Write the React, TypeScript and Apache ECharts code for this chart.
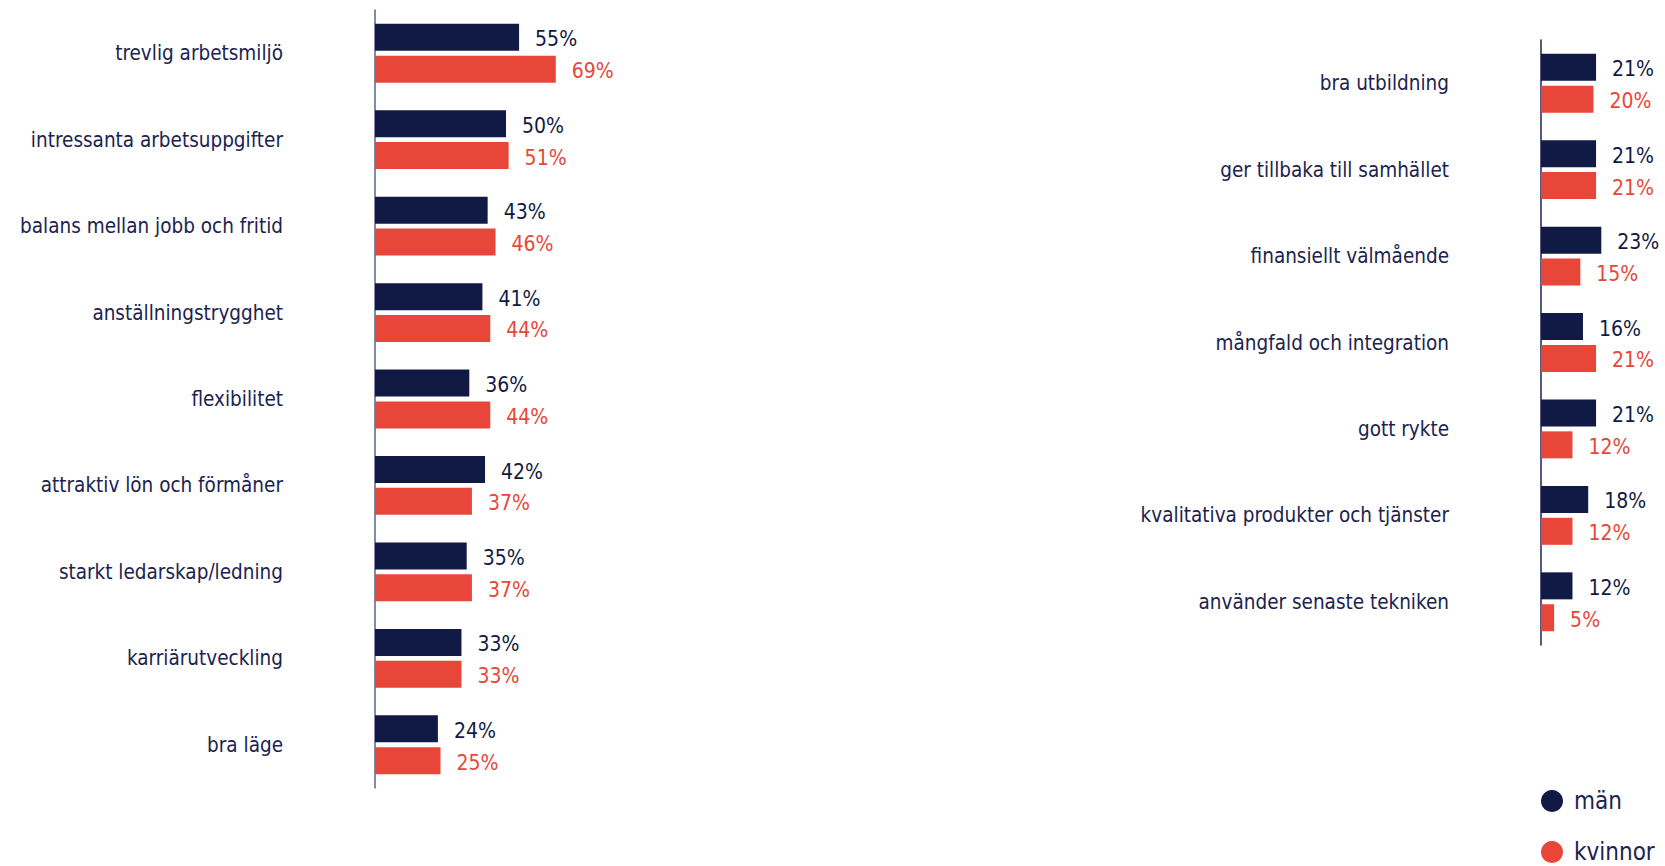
import React, { useEffect, useRef } from "react";
import * as echarts from "echarts";

const leftCategories = [
  "trevlig arbetsmiljö",
  "intressanta arbetsuppgifter",
  "balans mellan jobb och fritid",
  "anställningstrygghet",
  "flexibilitet",
  "attraktiv lön och förmåner",
  "starkt ledarskap/ledning",
  "karriärutveckling",
  "bra läge",
];
const leftMen = [55, 50, 43, 41, 36, 42, 35, 33, 24];
const leftWomen = [69, 51, 46, 44, 44, 37, 37, 33, 25];

const rightCategories = [
  "bra utbildning",
  "ger tillbaka till samhället",
  "finansiellt välmående",
  "mångfald och integration",
  "gott rykte",
  "kvalitativa produkter och tjänster",
  "använder senaste tekniken",
];
const rightMen = [21, 21, 23, 16, 21, 18, 12];
const rightWomen = [20, 21, 15, 21, 12, 12, 5];

const seriesNames = ["män", "kvinnor"];

const NAVY = "#111a44";
const RED = "#e84639";
const TEXT = "#1c2350";
const FONT = "'DejaVu Sans Condensed', 'DejaVu Sans', sans-serif";

export default function App() {
  const ref = useRef<HTMLDivElement>(null);
  useEffect(() => {
    if (!ref.current) return;
    const chart = echarts.init(ref.current, undefined, { renderer: "svg" });
    const yAxisCommon = (data: string[], gridIndex: number) => ({
      type: "category" as const,
      gridIndex,
      data,
      inverse: true,
      axisTick: { show: false },
      axisLine: { show: true, lineStyle: { color: gridIndex === 0 ? "#5f6482" : "#1c2350", width: 1.5 } },
      axisLabel: { margin: 92, fontSize: 20.5, color: TEXT, fontFamily: FONT },
      splitLine: { show: false },
    });
    const xAxisCommon = (max: number, gridIndex: number) => ({
      type: "value" as const,
      gridIndex,
      min: 0,
      max,
      show: false,
    });
    const barSeries = (name: string, data: number[], color: string, idx: number) => ({
      type: "bar" as const,
      name,
      data,
      xAxisIndex: idx,
      yAxisIndex: idx,
      barWidth: 27,
      barGap: "18%",
      itemStyle: { color },
      label: {
        show: true,
        position: "right" as const,
        distance: 16,
        offset: [0, 2],
        formatter: "{c}%",
        color,
        fontSize: 21,
        fontFamily: FONT,
      },
    });
    const legendCommon = (name: string, top: number) => ({
      data: [name],
      orient: "horizontal" as const,
      left: 1541,
      top,
      padding: 0,
      itemWidth: 22,
      itemHeight: 22,
      icon: "circle",
      textStyle: {
        fontSize: 24,
        lineHeight: 24,
        color: TEXT,
        fontFamily: FONT,
        padding: [0, 0, 0, 6],
      },
      selectedMode: false,
    });
    chart.setOption({
      animation: false,
      backgroundColor: "#ffffff",
      textStyle: { fontFamily: FONT },
      grid: [
        { left: 375, top: 10, width: 262, height: 778 },
        { left: 1541, top: 40, width: 118, height: 605 },
      ],
      xAxis: [xAxisCommon(100, 0), xAxisCommon(45, 1)],
      yAxis: [yAxisCommon(leftCategories, 0), yAxisCommon(rightCategories, 1)],
      legend: [legendCommon(seriesNames[0], 789), legendCommon(seriesNames[1], 840)],
      series: [
        barSeries(seriesNames[0], leftMen, NAVY, 0),
        barSeries(seriesNames[1], leftWomen, RED, 0),
        barSeries(seriesNames[0], rightMen, NAVY, 1),
        barSeries(seriesNames[1], rightWomen, RED, 1),
      ],
    });
    return () => chart.dispose();
  }, []);
  return (
    <div
      ref={ref}
      style={{ position: "fixed", left: 0, top: 0, width: 1665, height: 866, background: "#fff" }}
    />
  );
}
